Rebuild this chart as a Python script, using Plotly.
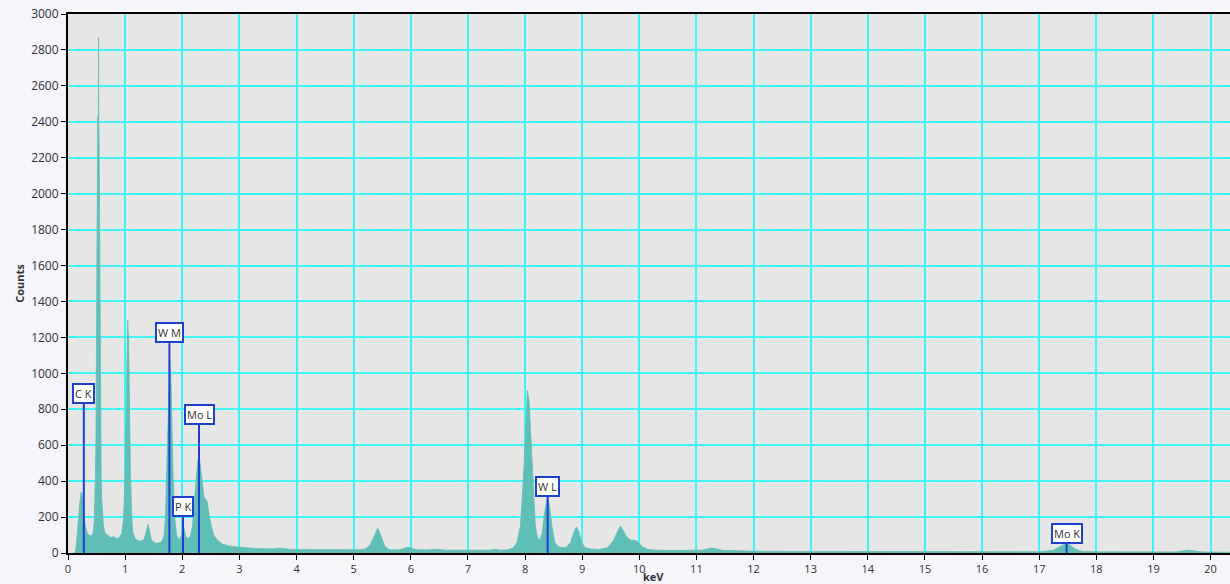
import plotly.graph_objects as go

# EDS spectrum: energy (keV) and counts
energy = [
    0.10, 0.13, 0.15, 0.17, 0.19, 0.21, 0.23, 0.245, 0.26, 0.28, 0.30, 0.32, 0.34, 0.37, 0.40,
    0.43, 0.445, 0.46, 0.47, 0.48, 0.49, 0.50, 0.505, 0.512, 0.52, 0.532, 0.535, 0.538, 0.545,
    0.553, 0.56, 0.57, 0.58, 0.59, 0.605, 0.62, 0.65,
    0.70, 0.75, 0.80, 0.85, 0.90, 0.94, 0.97, 0.995, 1.015, 1.03, 1.045, 1.06,
    1.075, 1.095, 1.115, 1.135, 1.17, 1.22, 1.28, 1.33, 1.37, 1.40, 1.43, 1.46, 1.52, 1.58, 1.64,
    1.68, 1.705, 1.725, 1.745, 1.765, 1.782, 1.80, 1.82, 1.84, 1.87, 1.90, 1.94, 1.98, 2.01, 2.03,
    2.06, 2.10, 2.14, 2.18, 2.21, 2.24, 2.27, 2.30, 2.32, 2.35, 2.38, 2.41, 2.44, 2.47, 2.50,
    2.55, 2.62, 2.70, 2.80, 2.90, 3.00, 3.10, 3.20, 3.30, 3.40, 3.50, 3.60, 3.70, 3.80, 3.90,
    4.00, 4.20, 4.40, 4.60, 4.80, 5.00, 5.10, 5.20, 5.28, 5.34, 5.39, 5.42, 5.45, 5.50, 5.55,
    5.62, 5.70, 5.80, 5.90, 5.95, 6.00, 6.10, 6.30, 6.45, 6.60, 6.80, 7.00, 7.20, 7.40, 7.48,
    7.56, 7.70, 7.80, 7.86, 7.92, 7.97, 8.01, 8.04, 8.07, 8.10, 8.14, 8.18, 8.22, 8.26, 8.30,
    8.34, 8.38, 8.40, 8.43, 8.47, 8.52, 8.58, 8.65, 8.72, 8.80, 8.86, 8.90, 8.94, 8.99, 9.05,
    9.15, 9.30, 9.45, 9.55, 9.62, 9.67, 9.71, 9.78, 9.85, 9.93, 9.98, 10.05, 10.15, 10.30,
    10.60, 10.90, 11.10, 11.25, 11.32, 11.45, 11.70, 12.00, 12.50, 13.00, 13.50, 14.00, 14.50,
    15.00, 15.50, 16.00, 16.50, 17.00, 17.25, 17.35, 17.43, 17.48, 17.55, 17.63, 17.75, 18.00,
    18.50, 19.00, 19.40, 19.55, 19.62, 19.70, 19.85, 20.00, 20.35,
]
counts = [
    0, 5, 60, 150, 230, 290, 340, 330, 280, 200, 160, 130, 110, 100, 95,
    105, 120, 180, 280, 420, 650, 1200, 1600, 2270, 2430, 2430, 2870, 2430, 2270,
    1600, 1100, 650, 420, 300, 200, 150, 110,
    95, 85, 92, 80, 85, 110, 180, 380, 750, 1100, 1295, 1180,
    820, 420, 210, 115, 82, 70, 66, 75, 120, 160, 118, 72, 56, 55, 62,
    95, 190, 420, 720, 980, 1070, 980, 700, 420, 190, 100, 72, 95, 150, 140,
    95, 80, 90, 150, 280, 420, 510, 530, 470, 380, 310, 300, 280, 210, 160,
    100, 70, 50, 40, 35, 32, 28, 27, 25, 24, 22, 23, 27, 22, 20,
    20, 19, 18, 18, 17, 17, 18, 22, 40, 80, 120, 138, 118, 70, 35,
    20, 17, 18, 25, 32, 28, 18, 17, 21, 16, 15, 14, 14, 16, 21,
    16, 18, 30, 60, 150, 400, 750, 905, 850, 650, 350, 150, 82, 72, 110,
    220, 290, 300, 260, 150, 60, 35, 30, 30, 60, 120, 145, 120, 60, 30,
    22, 20, 30, 70, 120, 150, 130, 90, 72, 70, 60, 35, 20, 16,
    14, 13, 16, 28, 25, 15, 12, 10, 9, 9, 8, 8, 7,
    7, 7, 6, 6, 7, 15, 35, 48, 52, 42, 22, 9, 7,
    6, 5, 6, 14, 16, 12, 6, 5, 4,
]

# Element line markers
line_names = ["C K", "W M", "P K", "Mo L", "W L", "Mo K"]
line_energy = [0.277, 1.775, 2.013, 2.293, 8.396, 17.479]
line_top = [832, 1168, 201, 715, 313, 50]

tick_labels_x = [str(i) for i in range(0, 21)]
tick_vals_y = list(range(0, 3001, 200))

spectrum_color = "#5fbeb6"
marker_color = "#1f3fcf"
grid_color = "#3ff4f4"

fig = go.Figure()

fig.add_trace(go.Scatter(
    x=energy, y=counts, mode="lines", fill="tozeroy",
    line=dict(color=spectrum_color, width=0.8),
    fillcolor=spectrum_color, hoverinfo="skip", showlegend=False,
))

# Vertical marker lines from zero up to each label box
mx, my = [], []
for e, t in zip(line_energy, line_top):
    mx += [e, e, None]
    my += [0, t, None]
fig.add_trace(go.Scatter(
    x=mx, y=my, mode="lines", line=dict(color=marker_color, width=2),
    hoverinfo="skip", showlegend=False,
))

for name, e, t in zip(line_names, line_energy, line_top):
    fig.add_annotation(
        x=e, y=t, text=name, showarrow=False, xanchor="center", yanchor="bottom",
        font=dict(family="Open Sans", size=11, color="#333333"),
        bgcolor="white", bordercolor=marker_color, borderwidth=2, borderpad=1,
    )

# Axis title for energy, set just below the tick labels
fig.add_annotation(
    x=0.5035, xref="paper", y=-0.043, yref="paper", text="<b>keV</b>",
    showarrow=False, xanchor="center", yanchor="middle",
    font=dict(family="Open Sans", size=11, color="#333333"),
)

fig.update_layout(
    width=1230, height=584,
    margin=dict(l=68, r=0, t=14, b=31),
    paper_bgcolor="#f5f5fa", plot_bgcolor="#e6e6e6",
    font=dict(family="Open Sans", size=11, color="#333333"),
    xaxis=dict(
        range=[0, 20.34], tickvals=list(range(0, 21)), ticktext=tick_labels_x,
        showgrid=True, gridcolor=grid_color, gridwidth=2,
        showline=True, linecolor="black", linewidth=2, mirror=True,
        ticks="outside", ticklen=5, tickcolor="black", tickwidth=1,
        zeroline=False, tickfont=dict(size=11),
    ),
    yaxis=dict(
        range=[0, 3000], tickvals=tick_vals_y,
        showgrid=True, gridcolor=grid_color, gridwidth=2,
        showline=True, linecolor="black", linewidth=2,
        ticks="outside", ticklen=5, tickcolor="black", tickwidth=1,
        zeroline=False,
        title=dict(text="<b>Counts</b>", standoff=4, font=dict(size=11, color="#333333")),
        tickfont=dict(size=12),
    ),
)

fig.write_html("out.html")
